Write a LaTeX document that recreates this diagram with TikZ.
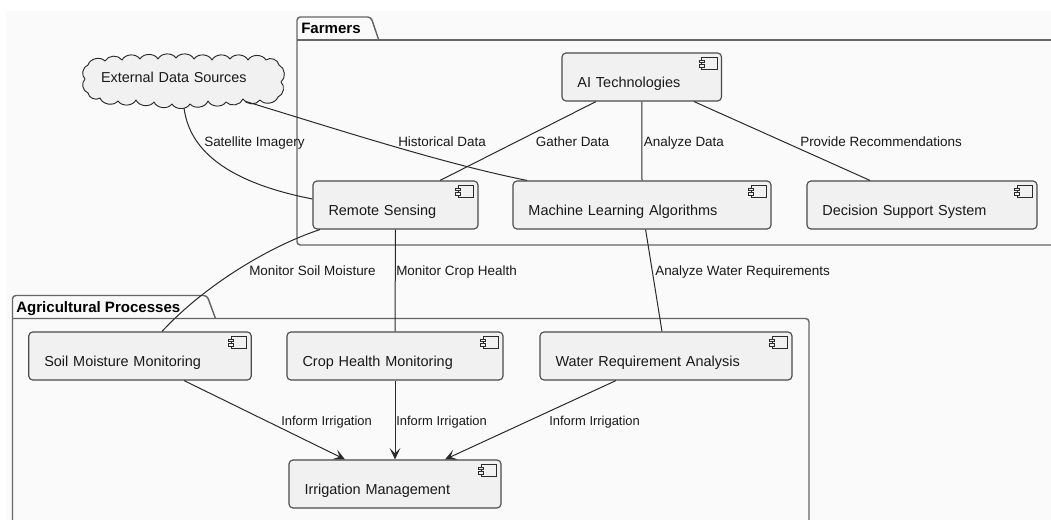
\documentclass[tikz,border=0pt]{standalone}
\usepackage{fontspec}
\setmainfont{Liberation Sans}
\usetikzlibrary{calc,arrows.meta}
\definecolor{bgc}{HTML}{FAFAFA}
\definecolor{boxc}{HTML}{F1F1F1}
\definecolor{inkc}{HTML}{2A2A2A}
\definecolor{pkgc}{HTML}{666666}
\tikzset{
  pkgline/.style={draw=pkgc,line width=1.1pt,line join=round,rounded corners=2.5pt},
  conn/.style={draw=inkc,line width=0.75pt},
  arrowconn/.style={conn,-{Stealth[length=8.5pt,width=8pt,inset=4pt]}},
  compbox/.style={draw=inkc!85,fill=boxc,line width=0.85pt,rounded corners=3pt,inner ysep=0pt,inner xsep=11.6pt,
    minimum height=36pt,align=left,font=\fontsize{10.85pt}{13pt}\selectfont,text=black!90,text height=18.75pt,text depth=2.25pt},
  cloudtext/.style={inner ysep=0pt,inner xsep=12.75pt,minimum width=150pt,minimum height=39.75pt,text width=124.5pt,align=left,text height=3.8pt,text depth=3pt,font=\fontsize{10.8pt}{13pt}\selectfont,text=black!90},
  puff/.style={bend left=60},
  edgelabel/.style={anchor=base west,inner sep=0pt,font=\fontsize{10.1pt}{12pt}\selectfont,text=black!90},
  narrowlabel/.style={edgelabel,font=\fontsize{9.7pt}{12pt}\selectfont},
  pkglabel/.style={anchor=base west,inner sep=0pt,font=\fontsize{11.3pt}{13pt}\selectfont\bfseries},
  iconline/.style={draw=inkc,line width=0.6pt,fill=boxc}
}
\begin{document}
\begin{tikzpicture}[x=0.75pt,y=-0.75pt]
\useasboundingbox (0,0) rectangle (1051,520);
\fill[bgc] (6,11) rectangle (1051,520);
\begin{scope}
\clip (0,0) rectangle (1051,520);
\draw[pkgline] (1060,245) -- (297,245) -- (297,17) -- (371,17) -- (378.7,40);
\draw[pkgline,rounded corners=0pt] (297,40) -- (1060,40);
\draw[pkgline] (12.5,530) -- (12.5,295.5) -- (207,295.5) -- (215.5,318.5);
\draw[pkgline] (12.5,318.5) -- (809,318.5) -- (809,530);
\end{scope}
\node[pkglabel] (farmers) at (301,34) {Farmers};
\node[pkglabel] (agri) at (16,312.5) {Agricultural Processes};
\node[compbox,minimum width=119.6pt,text width=96.4pt] (ai) at (641.75,77) {AI Technologies};
\node[compbox,minimum width=123.75pt,text width=100.5pt] (remote) at (395.5,205) {Remote Sensing};
\node[compbox,minimum width=193.5pt,text width=170.3pt] (ml) at (642,205) {Machine Learning Algorithms};
\node[compbox,minimum width=172.5pt,text width=149.3pt] (dss) at (922,205) {Decision Support System};
\node[compbox,minimum width=166.9pt,text width=143.6pt] (soil) at (140,356) {Soil Moisture Monitoring};
\node[compbox,minimum width=162pt,text width=138.75pt] (crop) at (395,356) {Crop Health Monitoring};
\node[compbox,minimum width=189pt,text width=165.75pt] (water) at (666,356) {Water Requirement Analysis};
\node[compbox,minimum width=159pt,text width=135.75pt] (irr) at (395,484) {Irrigation Management};
\foreach \n in {ai,remote,ml,dss,soil,crop,water,irr}{
  \draw[iconline] ($(\n.north east)+(-20.5,5)$) rectangle ($(\n.north east)+(-5,17)$);
  \draw[iconline] ($(\n.north east)+(-23,7.5)$) rectangle ($(\n.north east)+(-18,10)$);
  \draw[iconline] ($(\n.north east)+(-23,12)$) rectangle ($(\n.north east)+(-18,14.5)$);
}
\draw[draw=inkc,line width=0.7pt,fill=boxc,line join=round] (88,65)
  to[puff] (105,61) to[puff] (122,60) to[puff] (140,59) to[puff] (158,59) to[puff] (176,58) to[puff] (194,59) to[puff] (212,60) to[puff] (230,59) to[puff] (248,60) to[puff] (266,60) to[puff] (279,65) to[puff] (281,82) to[puff] (278,97) to[puff] (260,100) to[puff] (243,99) to[puff] (226,102) to[puff] (208,101) to[puff] (190,104) to[puff] (172,104) to[puff] (154,102) to[puff] (136,100) to[puff] (118,101) to[puff] (100,98) to[puff] (88,93) to[puff] (85,79) to[puff] (88,65) -- cycle;
\node[cloudtext] (cloud) at (184,81.5) {External Data Sources};
\draw[conn] (cloud.south) .. controls (188,135) and (205,178) .. ($(remote.west)+(0,-6)$);
\draw[conn] ($(cloud.south)+(61,-7)$) .. controls (330,127) and (440,163) .. ($(ml.north)+(-115,0)$);
\draw[conn] ($(ai.south)+(-45.75,0)$) -- ($(remote.north)+(44.5,0)$);
\draw[conn] (ai.south) -- (ml.north);
\draw[conn] ($(ai.south)+(52.25,0)$) -- ($(dss.north)+(-52,0)$);
\draw[conn] ($(remote.south)+(-75.5,0)$) .. controls (270,246) and (205,285) .. ($(soil.north)+(22,0)$);
\draw[conn] (remote.south) -- (crop.north);
\draw[conn] ($(ml.south)+(3.6,0)$) -- ($(water.north)+(-4,0)$);
\draw[arrowconn] ($(soil.south)+(44,0)$) -- ($(irr.north)+(-50,0)$);
\draw[arrowconn] (crop.south) -- (irr.north);
\draw[arrowconn] ($(water.south)+(-50,0)$) -- ($(irr.north)+(50,0)$);
\node[edgelabel] (l1) at (204,146.8) {Satellite Imagery};
\node[edgelabel] (l2) at (398,146.8) {Historical Data};
\node[edgelabel] (l3) at (535.6,146.8) {Gather Data};
\node[edgelabel] (l4) at (643.6,146.8) {Analyze Data};
\node[edgelabel] (l5) at (800,146.8) {Provide Recommendations};
\node[edgelabel] (l6) at (249,275.8) {Monitor Soil Moisture};
\node[edgelabel] (l7) at (396,275.8) {Monitor Crop Health};
\node[edgelabel] (l8) at (655,275.8) {Analyze Water Requirements};
\node[narrowlabel] (l9) at (281,425.8) {Inform Irrigation};
\node[narrowlabel] (l10) at (396,425.8) {Inform Irrigation};
\node[narrowlabel] (l11) at (549,425.8) {Inform Irrigation};
\end{tikzpicture}
\end{document}
